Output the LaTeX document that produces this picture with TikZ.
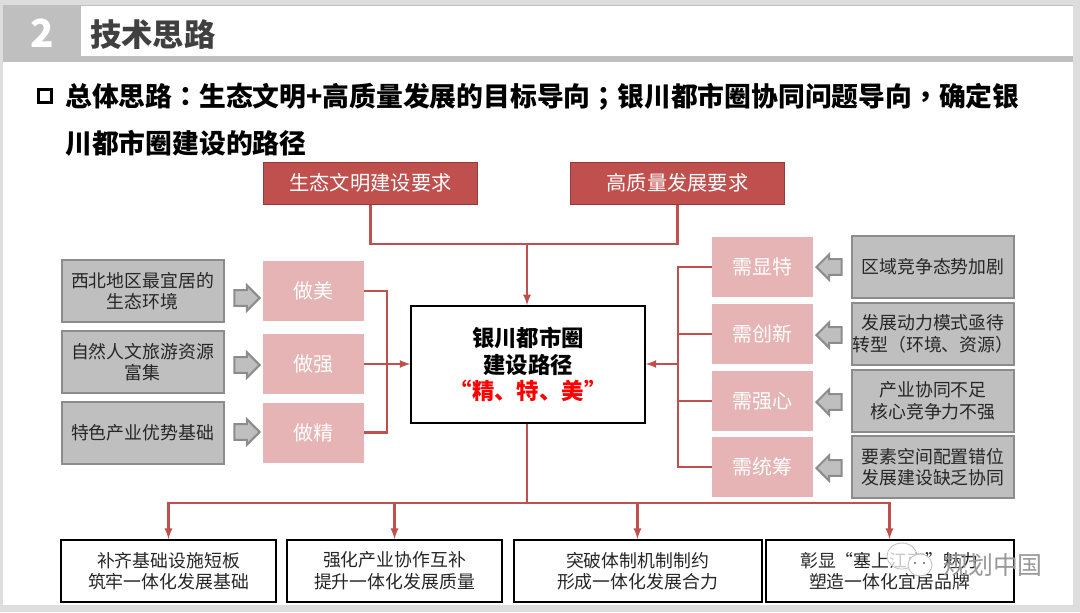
\documentclass[tikz,border=0pt]{standalone}
\usepackage{fontspec}
\setmainfont{Noto Sans CJK SC}
\newfontfamily\punctfont{Noto Sans CJK TC}
\usetikzlibrary{shapes.arrows}

\definecolor{bandgray}{HTML}{BFBFBF}
\definecolor{edgegray}{HTML}{8C8C8C}
\definecolor{framegray}{HTML}{DDDDDD}
\definecolor{linered}{HTML}{C0504D}
\definecolor{pinkfill}{HTML}{E6B4B4}
\definecolor{inkgray}{HTML}{404040}

\tikzset{
	goal node/.style={draw=linered!75!black,fill=linered,text=white,line width=0.75pt,
		minimum width=161pt,minimum height=31.5pt,font=\fontsize{15.2}{18}\selectfont},
	gray node/.style={draw=edgegray,fill=bandgray,text=black!85,line width=1.5pt,align=center,
		minimum width=121.5pt,minimum height=46.5pt,inner xsep=0pt,font=\fontsize{13.4}{16.2}\selectfont},
	pink node/.style={fill=pinkfill,text=white,minimum width=76pt,minimum height=45pt,
		font=\fontsize{15}{18}\selectfont},
	task node/.style={draw=black,fill=white,text=black!85,line width=1.5pt,align=center,
		minimum height=46.5pt,inner xsep=0pt,font=\fontsize{13.4}{16.2}\selectfont},
	hollow arrow/.style={single arrow,draw=edgegray,fill=bandgray,line width=1.5pt,
		minimum width=19pt,minimum height=19pt,single arrow head extend=3.5pt,
		single arrow head indent=0pt,inner sep=5pt},
	red line/.style={draw=linered,line width=1.7pt},
	red arrow/.style={red line,-latex}
}

\begin{document}
\begin{tikzpicture}[x=0.75pt,y=-0.75pt]
	\useasboundingbox (0,0) rectangle (1080,612);

	% slide frame and header
	\fill[framegray] (0,0) rectangle (1080,612);
	\fill[white] (3,5) rectangle (1073,605);
	\fill[bandgray] (3,5) rectangle (1073,62);
	\fill[white] (81,6) rectangle (1073,56);

	\node[text=white,font=\fontsize{29}{32}\bfseries\selectfont] (num) at (42,33) {2};
	\node[text=inkgray,anchor=west,inner sep=0pt,font=\fontsize{23.5}{26}\bfseries\selectfont] (head) at (90,35) {技术思路};

	\node[draw=black,line width=2.2pt,minimum size=10pt,inner sep=0pt] (tick) at (45,96) {};
	\node[anchor=north west,align=left,inner sep=0pt,font=\fontsize{20.1}{35}\bfseries\selectfont] (lead) at (65,83)
		{总体思路{\punctfont：}生态文明+高质量发展的目标导向{\punctfont；}银川都市圈协同问题导向{\punctfont，}确定银\\川都市圈建设的路径};

	% top goals
	\node[goal node] (eco) at (370.5,183) {生态文明建设要求};
	\node[goal node] (hq) at (677.5,183) {高质量发展要求};

	% centre
	\node[draw=black,fill=white,line width=1.5pt,minimum width=175pt,minimum height=87.5pt,align=center,
		font=\fontsize{16.8}{20}\bfseries\selectfont] (core) at (528,364.5)
		{银川都市圈\\建设路径\\\textcolor{red}{“精、特、美”}};

	% left column
	\node[gray node] (l1) at (142.5,291) {西北地区最宜居的\\生态环境};
	\node[gray node] (l2) at (142.5,362) {自然人文旅游资源\\富集};
	\node[gray node] (l3) at (142.5,433) {特色产业优势基础};
	\node[pink node] (do1) at (313.5,291) {做美};
	\node[pink node] (do2) at (313.5,364) {做强};
	\node[pink node] (do3) at (313.5,432.5) {做精};
	\node[hollow arrow] (la1) at (243,298) {};
	\node[hollow arrow] (la2) at (243,365) {};
	\node[hollow arrow] (la3) at (243,432) {};

	% right column
	\node[pink node] (need1) at (762.5,267) {需显特};
	\node[pink node] (need2) at (762.5,334) {需创新};
	\node[pink node] (need3) at (762.5,401) {需强心};
	\node[pink node] (need4) at (762.5,467) {需统筹};
	\node[gray node] (r1) at (933,266.5) {区域竞争态势加剧};
	\node[gray node] (r2) at (933,334) {发展动力模式亟待\\转型{\punctfont（}环境、资源{\punctfont）}};
	\node[gray node] (r3) at (933,400.5) {产业协同不足\\核心竞争力不强};
	\node[gray node] (r4) at (933,467) {要素空间配置错位\\发展建设缺乏协同};
	\node[hollow arrow,rotate=180] (ra1) at (833,267) {};
	\node[hollow arrow,rotate=180] (ra2) at (833,335) {};
	\node[hollow arrow,rotate=180] (ra3) at (833,402) {};
	\node[hollow arrow,rotate=180] (ra4) at (833,468) {};

	% bottom tasks
	\node[task node,minimum width=161pt] (t1) at (168.5,571) {补齐基础设施短板\\筑牢一体化发展基础};
	\node[task node,minimum width=161pt] (t2) at (394.5,571) {强化产业协作互补\\提升一体化发展质量};
	\node[task node,minimum width=186pt] (t3) at (637.5,571) {突破体制机制制约\\形成一体化发展合力};
	\node[task node,minimum width=186pt] (t4) at (889.5,571) {彰显“塞上江南”魅力\\塑造一体化宜居品牌};

	% junctions
	\coordinate (topjoin) at (527,244);
	\coordinate (ljoin) at (387,364);
	\coordinate (rjoin) at (678,364);
	\coordinate (bjoin) at (527,503);

	% connectors
	\draw[red line] (eco.south) |- (topjoin) -| (hq.south);
	\draw[red arrow] (topjoin) -- (core.north -| topjoin);
	\draw[red line] (do1.east) -| (ljoin);
	\draw[red line] (do3.east) -| (ljoin);
	\draw[red arrow] (do2.east) -- (core.west |- do2);
	\draw[red line] (need1.west) -| (rjoin);
	\draw[red line] (need4.west) -| (rjoin);
	\draw[red line] (need2.west) -- (need2.west -| rjoin);
	\draw[red line] (need3.west) -- (need3.west -| rjoin);
	\draw[red arrow] (rjoin) -- (core.east |- rjoin);
	\draw[red line,line width=2.2pt] (core.south -| bjoin) -- (bjoin);
	\draw[red arrow] (bjoin) -| (t1.north);
	\draw[red arrow] (bjoin) -| (t2.north);
	\draw[red arrow] (bjoin) -| (t3.north);
	\draw[red arrow] (bjoin) -| (t4.north);

	% watermark
	\fill[white,fill opacity=0.75,draw=black!25,line width=0.6pt] (902,556) ellipse (15 and 13);
	\fill[white,draw=black!25,line width=0.6pt] (920,565) ellipse (12 and 11);
	\fill[black!60] (915,563) circle (1.2) (924,563) circle (1.2);
	\node[text=black!40,font=\fontsize{18.7}{20}\selectfont,inner sep=0pt] (mark) at (993,565) {规划中国};
\end{tikzpicture}
\end{document}
